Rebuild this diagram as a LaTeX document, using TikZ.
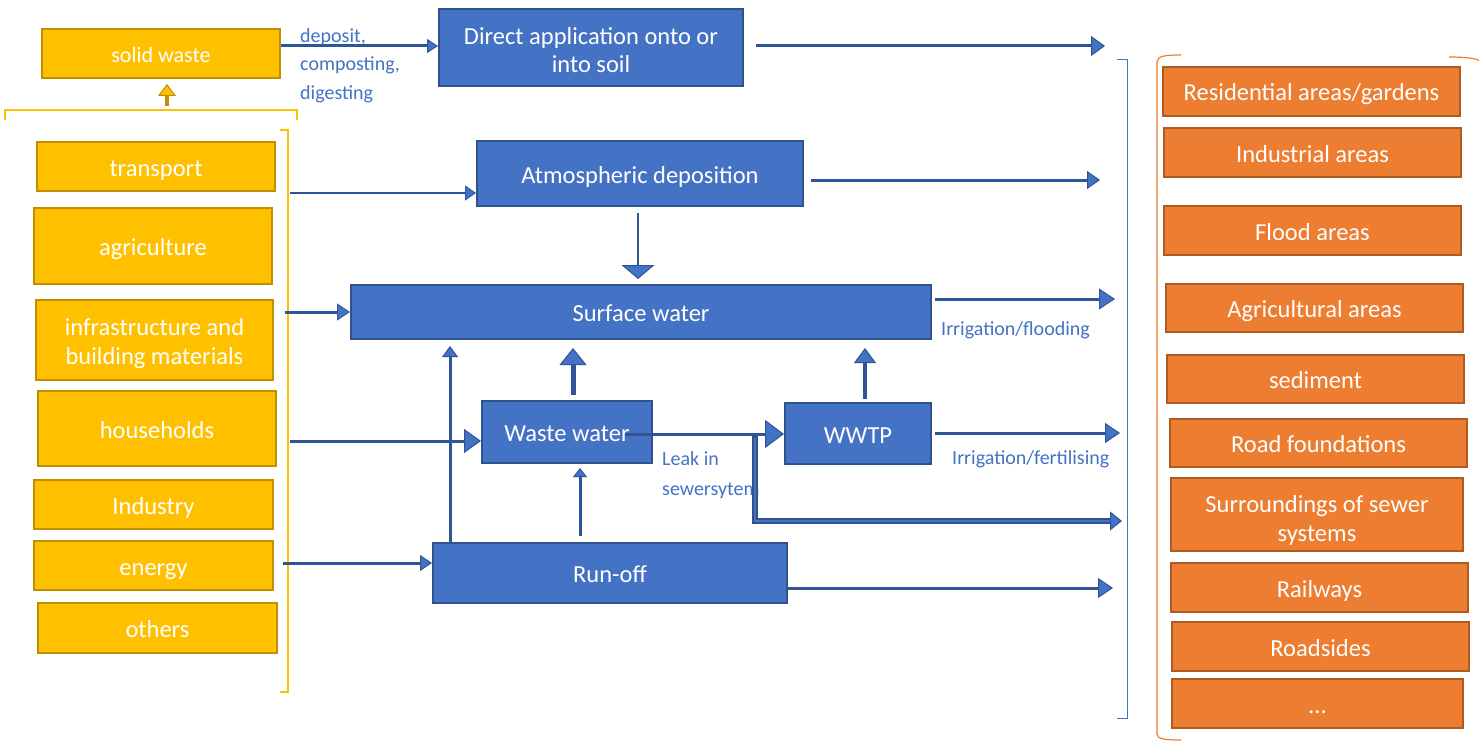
\documentclass[tikz,border=0pt]{standalone}
\usepackage{fontspec}
\setmainfont{Carlito}
\usetikzlibrary{arrows.meta,calc}
\definecolor{yfill}{HTML}{FFC000}
\definecolor{ydraw}{HTML}{BF9000}
\definecolor{bfill}{HTML}{4472C4}
\definecolor{bdraw}{HTML}{2F528F}
\definecolor{ablue}{HTML}{2F5597}
\definecolor{ofill}{HTML}{ED7D31}
\definecolor{odraw}{HTML}{AE5A21}
\newcommand\lift[1]{\rule{0pt}{#1pt}}
\begin{document}
\begin{tikzpicture}[x=1pt,y=-1pt,
  box/.style={rectangle, line width=2pt, inner sep=0pt, align=center, text=white,
    font=\fontsize{24.5}{29}\selectfont},
  one/.style={text height=23pt, text depth=4pt},
  ybox/.style={box, fill=yfill, draw=ydraw},
  bbox/.style={box, fill=bfill, draw=bdraw},
  obox/.style={box, fill=ofill, draw=odraw},
  lbl/.style={text=bfill, align=left, inner sep=0pt, font=\fontsize{20}{28.5}\selectfont},
  arr/.style={draw=ablue, line width=3pt},
  ar/.style 2 args={-{Triangle[length=#1pt,width=#2pt,fill=bfill,line width=1pt]}},
]
\useasboundingbox (0,0) rectangle (1479,741);

% yellow source boxes
\node[ybox, one, minimum width=238pt, minimum height=49pt, font=\fontsize{22}{27}\selectfont] (solid) at (161,53.5) {solid waste};
\node[ybox, one, minimum width=238pt, minimum height=49pt] (transport) at (156,166.5) {transport};
\node[ybox, one, minimum width=238pt, minimum height=76pt] (agri) at (153,246) {agriculture};
\node[ybox, minimum width=237pt, minimum height=80pt] (infra) at (154.5,340) {\lift{25}infrastructure and\\building materials};
\node[ybox, one, minimum width=238pt, minimum height=75pt] (house) at (157,428.5) {households};
\node[ybox, one, minimum width=239pt, minimum height=49pt] (industry) at (153.5,504.5) {Industry};
\node[ybox, one, minimum width=239pt, minimum height=49pt] (energy) at (153.5,565.5) {energy};
\node[ybox, one, minimum width=239pt, minimum height=50pt] (others) at (157.5,628) {others};

% blue pathway boxes
\node[bbox, minimum width=304pt, minimum height=77pt, font=\fontsize{24.5}{28}\selectfont] (direct) at (591,47.5) {\lift{23}Direct application onto or\\into soil};
\node[bbox, one, minimum width=326pt, minimum height=65pt] (atmos) at (640,173.5) {Atmospheric deposition};
\node[bbox, one, minimum width=580pt, minimum height=54pt] (surface) at (641,312) {Surface water};
\node[bbox, one, minimum width=170pt, minimum height=62pt] (waste) at (567,432) {Waste water};
\node[bbox, one, minimum width=146pt, minimum height=61pt] (wwtp) at (858,433.5) {WWTP};
\node[bbox, one, minimum width=354pt, minimum height=60pt] (runoff) at (610,573) {Run-off};

% orange receptor boxes
\node[obox, one, minimum width=297pt, minimum height=49pt] (res) at (1311.5,91.5) {Residential areas/gardens};
\node[obox, one, minimum width=297pt, minimum height=49pt] (ind) at (1312.5,152.5) {Industrial areas};
\node[obox, one, minimum width=297pt, minimum height=49pt] (flood) at (1312.5,230.5) {Flood areas};
\node[obox, one, minimum width=297pt, minimum height=48pt] (agr) at (1314.5,308) {Agricultural areas};
\node[obox, one, minimum width=297pt, minimum height=48pt] (sed) at (1315.5,379) {sediment};
\node[obox, one, minimum width=297pt, minimum height=48pt] (roadf) at (1318.5,443) {Road foundations};
\node[obox, minimum width=292pt, minimum height=73pt] (surr) at (1317,514.5) {\lift{29}Surroundings of sewer\\systems};
\node[obox, one, minimum width=297pt, minimum height=49pt] (rail) at (1319.5,587.5) {Railways};
\node[obox, one, minimum width=297pt, minimum height=49pt] (roads) at (1320.5,646.5) {Roadsides};
\node[obox, one, minimum width=291pt, minimum height=49pt] (more) at (1317.5,703.5) {...};

% labels
\node[lbl, anchor=west] (ldep) at (300,65.5) {deposit,\\composting,\\digesting};
\node[lbl, anchor=west] (lflood) at (941,330.5) {Irrigation/flooding};
\node[lbl, anchor=west] (lfert) at (952,459.5) {Irrigation/fertilising};
\node[lbl, anchor=west, font=\fontsize{20}{30}\selectfont] (lleak) at (662,475) {Leak in\\sewersytem};

% brackets
\draw[yfill, line width=2.5pt] (280,130) -- (288,130) -- (288,692) -- (280,692);
\draw[yfill, line width=1.2pt] (5,120) -- (5,110) -- (297,110) -- (297,120);
\draw[bfill, line width=1pt] (1117,60) -- (1127,60) -- (1127,718) -- (1117,718);
\draw[ofill, line width=1.2pt] (1181,55) .. controls (1165,55) and (1157,56) .. (1157,62) -- (1157,734) .. controls (1157,739) and (1165,740) .. (1181,740);
\draw[ofill, line width=1.2pt] (1449,57) .. controls (1468,57) and (1479,59) .. (1479,61);

% coordinates for free ends
\coordinate (s1) at (281,46);
\coordinate (d2) at (1105,46);
\coordinate (bt) at (290,193);
\coordinate (a2) at (1100,180);
\coordinate (bs) at (285,312);
\coordinate (sw2) at (1115,299);
\coordinate (bh) at (290,441);
\coordinate (ww) at (625,434);
\coordinate (lk) at (755,436);
\coordinate (lend) at (1122,521);
\coordinate (wt2) at (1120,433);
\coordinate (be) at (283,563);
\coordinate (ro2) at (1113,588);
\coordinate (x450) at (450,0);
\coordinate (x580) at (580,0);
\coordinate (x573) at (573,0);
\coordinate (x865) at (865,0);
\coordinate (x638) at (638,0);
\coordinate (yb) at (167,106);

% small yellow arrow
\draw[draw=ydraw, line width=4pt, -{Triangle[length=12pt,width=18pt,fill=yfill,line width=1pt]}, shorten >=5pt] (yb) -- (yb |- solid.south);

% connectors
\draw[arr, ar={11}{14}] (s1) -- (s1 -| direct.west);
\draw[arr, ar={14}{20}, shorten <=12pt] (d2 -| direct.east) -- (d2);
\draw[arr, line width=2.5pt, ar={11}{15}] (bt) -- (bt -| atmos.west);
\draw[arr, ar={13}{18}, shorten <=7pt] (a2 -| atmos.east) -- (a2);
\draw[arr, line width=2.5pt, ar={14}{33}, shorten <=6pt, shorten >=5pt] (x638 |- atmos.south) -- (x638 |- surface.north);
\draw[arr, ar={13}{17}] (bs) -- (surface.west);
\draw[arr, ar={16}{21}, shorten <=3pt] (sw2 -| surface.east) -- (sw2);
\draw[arr, ar={17}{24}] (bh) -- (bh -| waste.west);
\draw[arr, ar={19}{28}] (ww) -- (ww -| wwtp.west);
\draw[draw=bdraw, line width=5.5pt, line join=miter] (lk) |- ($(lend)+(-10,0)$);
\draw[draw=bfill, line width=2pt, line join=miter] ($(lk)+(0,2)$) |- ($(lend)+(-10,0)$);
\draw[arr, line width=1pt, -{Triangle[length=12pt,width=19pt,fill=bfill,line width=1pt]}] ($(lend)+(-11,0)$) -- (lend);
\draw[arr, ar={15}{20}, shorten <=3pt] (wt2 -| wwtp.east) -- (wt2);
\draw[arr, ar={11}{16}, shorten >=6pt] (x450 |- runoff.north) -- (x450 |- surface.south);
\draw[arr, ar={9}{14}, shorten <=6pt, shorten >=4pt] (x580 |- runoff.north) -- (x580 |- waste.south);
\draw[arr, line width=5pt, ar={17}{27}, shorten <=5pt, shorten >=8pt] (x573 |- waste.north) -- (x573 |- surface.south);
\draw[arr, line width=4pt, ar={15}{22}, shorten <=3pt, shorten >=8pt] (x865 |- wwtp.north) -- (x865 |- surface.south);
\draw[arr, ar={12}{16}] (be) -- (be -| runoff.west);
\draw[arr, ar={15}{20}] (ro2 -| runoff.east) -- (ro2);
\end{tikzpicture}
\end{document}
